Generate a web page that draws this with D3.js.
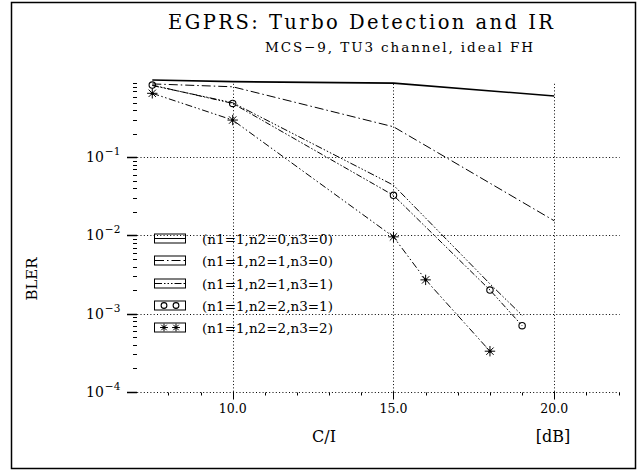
<!DOCTYPE html>
<html>
<head>
<meta charset="utf-8">
<script src="https://cdn.jsdelivr.net/npm/d3@7/dist/d3.min.js"></script>
<style>
  body { margin: 0; background: #fff; }
  svg { display: block; }
  text { font-family: "DejaVu Serif", serif; fill: #000; }
</style>
</head>
<body>
<div id="chart"></div>
<script>
// data
var seriesNames = ['(n1=1,n2=0,n3=0)', '(n1=1,n2=1,n3=0)', '(n1=1,n2=1,n3=1)', '(n1=1,n2=2,n3=1)', '(n1=1,n2=2,n3=2)'];
var ci1 = [7.5, 10, 15, 20];
var bler1 = [0.975, 0.93, 0.89, 0.61];
var ci2 = [7.5, 10, 15, 20];
var bler2 = [0.87, 0.80, 0.246, 0.0154];
var ci3 = [7.5, 10, 15, 18, 19];
var bler3 = [0.83, 0.50, 0.044, 0.0024, 0.00095];
var ci4 = [7.5, 10, 15, 18, 19];
var bler4 = [0.84, 0.49, 0.0326, 0.002, 0.0007];
var ci5 = [7.5, 10, 15, 16, 18];
var bler5 = [0.66, 0.30, 0.0096, 0.0027, 0.00033];
var xTicks = [10, 15, 20];
var xTickLabels = ['10.0', '15.0', '20.0'];
var yTicks = [1e-1, 1e-2, 1e-3, 1e-4];
var yTickExp = ['\u22121', '\u22122', '\u22123', '\u22124'];

var width = 639, height = 475;

var series = [
  {x: ci1, y: bler1, dash: null, w: 1.6, marker: null},
  {x: ci2, y: bler2, dash: '9,3,1.5,3', w: 1, marker: null},
  {x: ci3, y: bler3, dash: '7,2,1.5,2,1.5,2,1.5,2', w: 1, marker: null},
  {x: ci4, y: bler4, dash: '6,2,1.5,2,1.5,2', w: 1, marker: 'circle'},
  {x: ci5, y: bler5, dash: '7,2.5,1.5,2.5,1.5,2.5', w: 1, marker: 'star'}
];

var x = d3.scaleLinear().domain([7, 22]).range([136.2, 618.6]);
var y = d3.scaleLog().domain([1e-4, 1]).range([391.7, 79.2]);

var svg = d3.select('#chart')
    .append('svg')
    .attr('width', width)
    .attr('height', height);

// outer frame
svg.append('rect')
    .attr('x', 11.5).attr('y', 2.5)
    .attr('width', 624).attr('height', 466)
    .attr('fill', 'none')
    .attr('stroke', '#000')
    .attr('stroke-width', 1.5);

// titles
svg.append('text')
    .attr('x', 168).attr('y', 29)
    .attr('font-size', 19.5)
    .attr('textLength', 385)
    .attr('lengthAdjust', 'spacing')
    .text('EGPRS: Turbo Detection and IR');

svg.append('text')
    .attr('x', 265).attr('y', 52)
    .attr('font-size', 13.5)
    .attr('textLength', 268)
    .attr('lengthAdjust', 'spacing')
    .text('MCS\u22129, TU3 channel, ideal FH');

// grid (dotted)
var grid = svg.append('g')
    .attr('stroke', '#000')
    .attr('stroke-width', 1)
    .attr('stroke-dasharray', '1,2.3');

grid.selectAll('.hgrid')
    .data(yTicks)
    .enter().append('line')
    .attr('x1', x(7) + 1).attr('x2', x(22) + 1)
    .attr('y1', function(d){ return Math.round(y(d)) + 0.5; })
    .attr('y2', function(d){ return Math.round(y(d)) + 0.5; });

grid.selectAll('.vgrid')
    .data(xTicks)
    .enter().append('line')
    .attr('x1', function(d){ return Math.round(x(d)) + 0.5; })
    .attr('x2', function(d){ return Math.round(x(d)) + 0.5; })
    .attr('y1', y(1e-4)).attr('y2', 82);

// x ticks
var xMinor = d3.range(8, 23).filter(function(d){ return xTicks.indexOf(d) < 0; });
var xaxisY = Math.round(y(1e-4)) + 0.5;
svg.append('g').selectAll('line')
    .data(xMinor)
    .enter().append('line')
    .attr('x1', function(d){ return Math.round(x(d)) + 0.5; })
    .attr('x2', function(d){ return Math.round(x(d)) + 0.5; })
    .attr('y1', xaxisY).attr('y2', xaxisY + 3)
    .attr('stroke', '#000');

svg.append('g').selectAll('line')
    .data(xTicks)
    .enter().append('line')
    .attr('x1', function(d){ return Math.round(x(d)) + 0.5; })
    .attr('x2', function(d){ return Math.round(x(d)) + 0.5; })
    .attr('y1', xaxisY - 1).attr('y2', xaxisY + 7)
    .attr('stroke', '#000');

svg.append('g').selectAll('text')
    .data(xTicks)
    .enter().append('text')
    .attr('x', function(d){ return x(d); })
    .attr('y', 413)
    .attr('text-anchor', 'middle')
    .attr('font-size', 12.5)
    .text(function(d, i){ return xTickLabels[i]; });

svg.append('text')
    .attr('x', 324).attr('y', 442)
    .attr('text-anchor', 'middle')
    .attr('font-size', 16)
    .text('C/I');

svg.append('text')
    .attr('x', 553).attr('y', 442)
    .attr('text-anchor', 'middle')
    .attr('font-size', 16)
    .text('[dB]');

// y ticks
var axisX = 137;
var yMinor = [];
[1e-4, 1e-3, 1e-2, 1e-1].forEach(function(dec){
  for (var k = 2; k <= 9; k++) yMinor.push(dec * k);
});

svg.append('g').selectAll('line')
    .data(yMinor)
    .enter().append('line')
    .attr('x1', axisX - 4).attr('x2', axisX)
    .attr('y1', function(d){ return Math.round(y(d)) + 0.5; })
    .attr('y2', function(d){ return Math.round(y(d)) + 0.5; })
    .attr('stroke', '#000');

svg.append('g').selectAll('line')
    .data(yTicks)
    .enter().append('line')
    .attr('x1', axisX - 10).attr('x2', axisX)
    .attr('y1', function(d){ return Math.round(y(d)) + 0.5; })
    .attr('y2', function(d){ return Math.round(y(d)) + 0.5; })
    .attr('stroke', '#000')
    .attr('stroke-width', 1.5);

var ylab = svg.append('g').selectAll('text')
    .data(yTicks)
    .enter().append('text')
    .attr('x', 86)
    .attr('y', function(d){ return y(d) + 5; })
    .attr('font-size', 14);
ylab.append('tspan').text('10');
ylab.append('tspan')
    .attr('dx', 1)
    .attr('dy', -7)
    .attr('font-size', 10.5)
    .text(function(d, i){ return yTickExp[i]; });

svg.append('text')
    .attr('transform', 'translate(37,279) rotate(-90)')
    .attr('text-anchor', 'middle')
    .attr('font-size', 15)
    .text('BLER');

// curves
var line = d3.line()
    .x(function(d){ return x(d[0]); })
    .y(function(d){ return y(d[1]); });

function starPath(r) {
  var p = '';
  for (var a = 0; a < 4; a++) {
    var t = a * Math.PI / 4;
    p += 'M' + (-r * Math.cos(t)) + ',' + (-r * Math.sin(t)) + 'L' + (r * Math.cos(t)) + ',' + (r * Math.sin(t));
  }
  return p;
}

function drawMarker(g, type, cx, cy, scale) {
  if (type === 'circle') {
    g.append('circle')
        .attr('cx', cx).attr('cy', cy).attr('r', 3.2 * scale)
        .attr('fill', 'none').attr('stroke', '#000').attr('stroke-width', 1.1);
  } else if (type === 'star') {
    g.append('path')
        .attr('transform', 'translate(' + cx + ',' + cy + ')')
        .attr('d', starPath(5.2 * scale))
        .attr('stroke', '#000').attr('stroke-width', 1);
    g.append('circle')
        .attr('cx', cx).attr('cy', cy).attr('r', 1.6 * scale)
        .attr('fill', '#000');
  }
}

var curves = svg.append('g');
series.forEach(function(s){
  var pts = s.x.map(function(v, i){ return [v, s.y[i]]; });
  curves.append('path')
      .attr('d', line(pts))
      .attr('fill', 'none')
      .attr('stroke', '#000')
      .attr('stroke-width', s.w)
      .attr('stroke-dasharray', s.dash);
  if (s.marker) {
    pts.forEach(function(p){
      drawMarker(curves, s.marker, x(p[0]), y(p[1]), 1);
    });
  }
});

// legend
var legY = [238, 260.3, 282.6, 304.9, 327.2];
var leg = svg.append('g');
series.forEach(function(s, i){
  var cy = Math.round(legY[i]) + 0.5;
  leg.append('rect')
      .attr('x', 154.5).attr('y', cy - 4.5)
      .attr('width', 31).attr('height', 9)
      .attr('fill', 'none').attr('stroke', '#000');
  if (s.marker) {
    drawMarker(leg, s.marker, 164, cy, s.marker === 'circle' ? 0.9 : 0.75);
    drawMarker(leg, s.marker, 176, cy, s.marker === 'circle' ? 0.9 : 0.75);
  } else {
    leg.append('line')
        .attr('x1', 155).attr('x2', 185)
        .attr('y1', cy).attr('y2', cy)
        .attr('stroke', '#000')
        .attr('stroke-dasharray', s.dash);
  }
  leg.append('text')
      .attr('x', 202).attr('y', cy + 5)
      .attr('font-size', 13.5)
      .attr('textLength', 131)
      .attr('lengthAdjust', 'spacing')
      .text(seriesNames[i]);
});
</script>
</body>
</html>
